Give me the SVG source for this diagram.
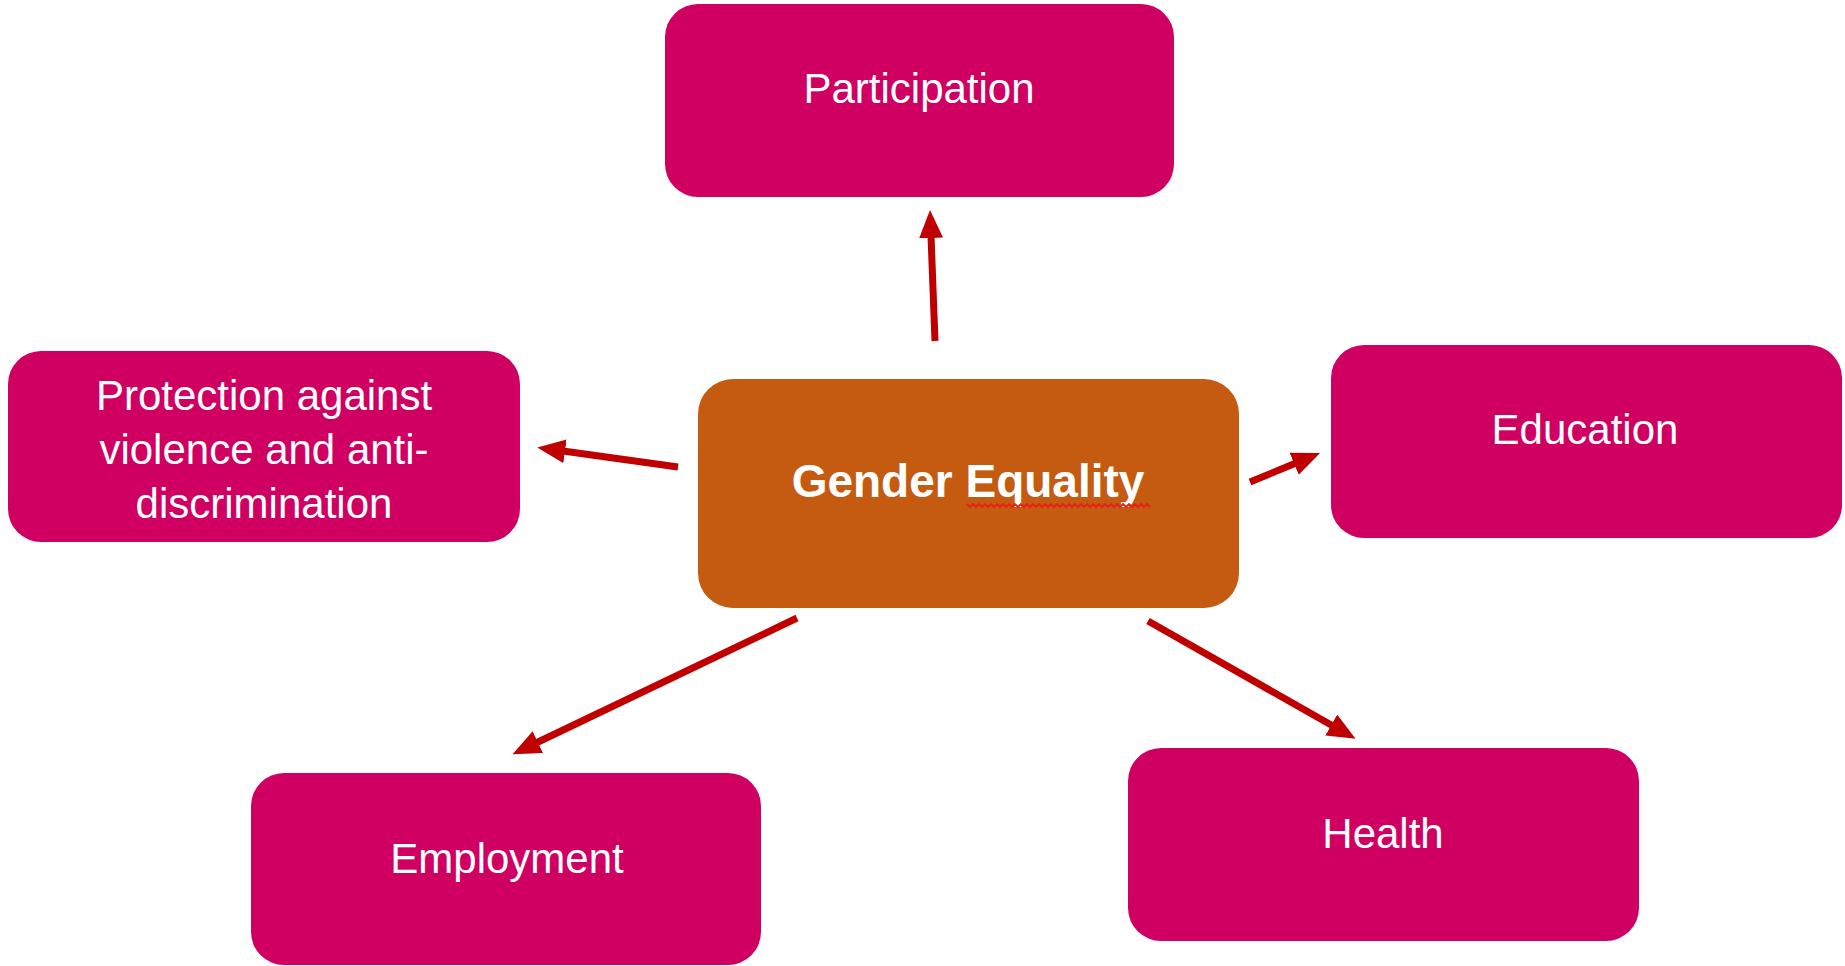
<svg xmlns="http://www.w3.org/2000/svg" width="1845" height="966" viewBox="0 0 1845 966">
<style>
.pink{fill:#D00062;}
.orange{fill:#C55A11;}
.lbl{fill:#FFFFFF;font-family:"Liberation Sans",Arial,sans-serif;font-size:42px;text-anchor:middle;}
.bold{font-weight:bold;font-size:46px;}
.conn{stroke:#C00000;stroke-width:7;fill:none;marker-end:url(#ah);}
</style>
<defs>
<marker id="ah" markerUnits="userSpaceOnUse" markerWidth="28" markerHeight="24" refX="2" refY="12" orient="auto">
<path d="M0,0 L28,12 L0,24 z" fill="#C00000"/>
</marker>
</defs>
<rect width="1845" height="966" fill="#FFFFFF"/>
<g id="connectors">
<line class="conn" x1="935" y1="341" x2="931" y2="236"/>
<line class="conn" x1="678" y1="467" x2="563" y2="451"/>
<line class="conn" x1="1250" y1="482" x2="1296" y2="463"/>
<line class="conn" x1="797" y1="618" x2="536" y2="743"/>
<line class="conn" x1="1148" y1="621" x2="1333" y2="726"/>
</g>
<g id="participation">
<rect class="pink" x="665" y="4" width="509" height="193" rx="33"/>
<text class="lbl" x="919" y="103">Participation</text>
</g>
<g id="protection">
<rect class="pink" x="8" y="351" width="512" height="191" rx="33"/>
<text class="lbl" x="264" y="410">Protection against</text>
<text class="lbl" x="264" y="464">violence and anti-</text>
<text class="lbl" x="264" y="518">discrimination</text>
</g>
<g id="gender-equality">
<rect class="orange" x="698" y="379" width="541" height="229" rx="35"/>
<text class="lbl bold" x="968" y="497">Gender Equality</text>
<polyline points="967,504 970,507 973,504 976,507 979,504 982,507 985,504 988,507 991,504 994,507 997,504 1000,507 1003,504 1006,507 1009,504 1012,507 1015,504 1018,507 1021,504 1024,507 1027,504 1030,507 1033,504 1036,507 1039,504 1042,507 1045,504 1048,507 1051,504 1054,507 1057,504 1060,507 1063,504 1066,507 1069,504 1072,507 1075,504 1078,507 1081,504 1084,507 1087,504 1090,507 1093,504 1096,507 1099,504 1102,507 1105,504 1108,507 1111,504 1114,507 1117,504 1120,507 1123,504 1126,507 1129,504 1132,507 1135,504 1138,507 1141,504 1144,507 1147,504 1150,507" fill="none" stroke="#E8201A" stroke-width="1.8"/>
</g>
<g id="education">
<rect class="pink" x="1331" y="345" width="511" height="193" rx="33"/>
<text class="lbl" x="1585" y="444">Education</text>
</g>
<g id="employment">
<rect class="pink" x="251" y="773" width="510" height="192" rx="33"/>
<text class="lbl" x="507" y="873">Employment</text>
</g>
<g id="health">
<rect class="pink" x="1128" y="748" width="511" height="193" rx="33"/>
<text class="lbl" x="1383" y="848">Health</text>
</g>
</svg>
